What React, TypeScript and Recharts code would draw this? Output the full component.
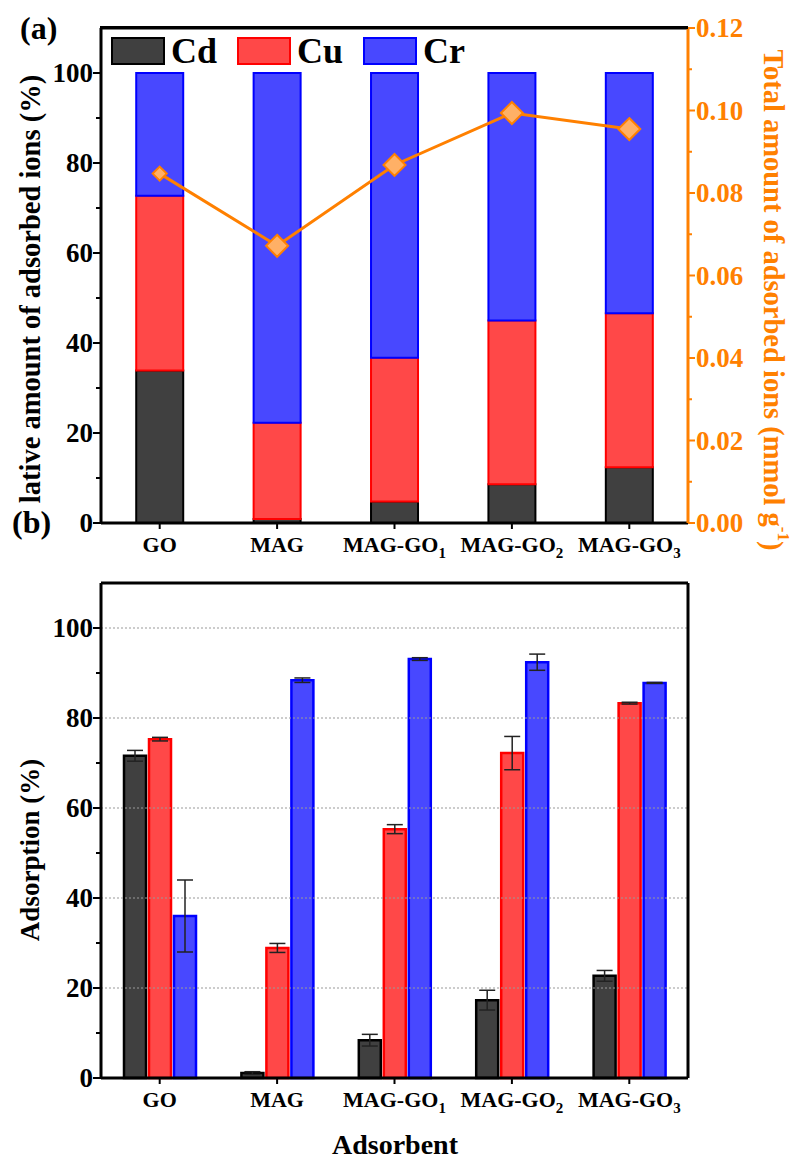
import React from "react";
import {
  ComposedChart, Bar, Line, XAxis, YAxis, ErrorBar, ReferenceLine, Legend,
} from "recharts";

const categories = ["GO", "MAG", "MAG-GO1", "MAG-GO2", "MAG-GO3"];

// (a) share of each ion in the adsorbed total (%)
const relCd = [33.9, 0.9, 4.8, 8.6, 12.4];
const relCu = [38.8, 21.4, 31.9, 36.4, 34.2];
const relCr = [27.3, 77.7, 63.3, 55.0, 53.4];
// (a) total amount adsorbed (mmol/g)
const totalAdsorbed = [0.0847, 0.0672, 0.0868, 0.0994, 0.0955];

// (b) adsorption (%) with error
const adsCd = [71.6, 1.1, 8.4, 17.3, 22.7];
const adsCu = [75.3, 28.9, 55.3, 72.2, 83.3];
const adsCr = [36.0, 88.4, 93.1, 92.4, 87.8];
const errCd = [1.2, 0.3, 1.3, 2.2, 1.2];
const errCu = [0.4, 1.0, 1.0, 3.7, 0.2];
const errCr = [8.0, 0.5, 0.3, 1.8, 0.1];

const pctTicks = [0, 10, 20, 30, 40, 50, 60, 70, 80, 90, 100];
const totalTicks = [0, 0.01, 0.02, 0.03, 0.04, 0.05, 0.06, 0.07, 0.08, 0.09, 0.1, 0.11, 0.12];
const gridValues = [20, 40, 60, 80, 100];

const dataA = categories.map((name, i) => ({
  name, cd: relCd[i], cu: relCu[i], cr: relCr[i], total: totalAdsorbed[i],
}));
const dataB = categories.map((name, i) => ({
  name, cd: adsCd[i], cu: adsCu[i], cr: adsCr[i],
  cdErr: errCd[i], cuErr: errCu[i], crErr: errCr[i],
}));

const FONT = "Liberation Serif, Times New Roman, serif";
const ORANGE = "#ff8000";
const ions = [
  { name: "Cd", fill: "#404040", stroke: "#000000" },
  { name: "Cu", fill: "#ff4848", stroke: "#ff0000" },
  { name: "Cr", fill: "#4848ff", stroke: "#0000ff" },
];

const txt = { fontFamily: FONT, fontWeight: "bold" as const };

const LeftTick = (props: any) => {
  const { x, y, payload } = props;
  const major = payload.value % 20 === 0;
  return (
    <g>
      <line x1={x} x2={x - (major ? 8 : 5)} y1={y} y2={y} stroke="#000" strokeWidth={2} />
      {major && (
        <text x={x - 8} y={y} dy="0.34em" textAnchor="end" style={txt} fontSize={27} fill="#000">
          {payload.value}
        </text>
      )}
    </g>
  );
};

const RightTick = (props: any) => {
  const { x, y, payload } = props;
  const major = Math.round(payload.value * 100) % 2 === 0;
  return (
    <g>
      <line x1={x} x2={x + (major ? 7 : 4)} y1={y} y2={y} stroke={ORANGE} strokeWidth={2} />
      {major && (
        <text x={x + 8} y={y} dy="0.34em" textAnchor="start" style={txt} fontSize={27} fill={ORANGE}>
          {payload.value.toFixed(2)}
        </text>
      )}
    </g>
  );
};

const XTick = (props: any) => {
  const { x, y, payload } = props;
  const m = /^(.*?)(\d)$/.exec(payload.value);
  return (
    <g>
      <line x1={x} x2={x} y1={y} y2={y + 6} stroke="#000" strokeWidth={2} />
      <text x={x} y={y + 29} textAnchor="middle" style={txt} fontSize={22} fill="#000">
        {m ? (<>{m[1]}<tspan fontSize={15} dy={6}>{m[2]}</tspan></>) : payload.value}
      </text>
    </g>
  );
};

const Diamond = (props: any) => {
  const { cx, cy, index } = props;
  const r = index === 0 ? 7 : 11;
  return (
    <path key={`d${index}`} d={`M${cx},${cy - r}L${cx + r},${cy}L${cx},${cy + r}L${cx - r},${cy}Z`}
      fill="#ffb066" stroke={ORANGE} strokeWidth={2} />
  );
};

const IonLegend = () => (
  <div style={{ display: "flex", alignItems: "center", ...txt }}>
    {ions.map((it) => (
      <div key={it.name} style={{ display: "flex", alignItems: "center", marginRight: 20 }}>
        <div style={{ width: 50, height: 24, background: it.fill, border: `2px solid ${it.stroke}` }} />
        <span style={{ fontSize: 36, marginLeft: 6, lineHeight: "36px" }}>{it.name}</span>
      </div>
    ))}
  </div>
);

const axisStyle = { stroke: "#000", strokeWidth: 3 };

export default function App() {
  return (
    <div style={{ position: "absolute", left: 0, top: 0, width: 797, height: 1162, background: "#fff" }}>
      {/* (a) */}
      <div style={{ position: "absolute", left: 0, top: 0 }}>
        <ComposedChart width={797} height={562} data={dataA}
          margin={{ top: 27, right: 0, left: 0, bottom: 0 }} barCategoryGap="30%">
          <XAxis dataKey="name" xAxisId="bottom" height={39} tick={<XTick />} tickLine={false}
            tickSize={0} tickMargin={0} axisLine={axisStyle} interval={0} />
          <XAxis dataKey="name" xAxisId="top" orientation="top" height={1} tick={false}
            tickLine={false} axisLine={axisStyle} />
          <YAxis yAxisId="left" width={101} domain={[0, 110]} ticks={pctTicks} tick={<LeftTick />}
            tickLine={false} tickSize={0} tickMargin={0} axisLine={axisStyle} interval={0}
            label={{
              content: () => (
                <text x={30} y={289} transform="rotate(-90 30 289)" textAnchor="middle"
                  dominantBaseline="central" style={txt} fontSize={28.5} fill="#000">
                  lative amount of adsorbed ions (%)
                </text>
              ),
            }} />
          <YAxis yAxisId="right" orientation="right" width={109} domain={[0, 0.12]} ticks={totalTicks}
            tick={<RightTick />} tickLine={false} tickSize={0} tickMargin={0} interval={0}
            axisLine={{ stroke: ORANGE, strokeWidth: 3 }}
            label={{
              content: () => (
                <text x={773} y={300} transform="rotate(90 773 300)" textAnchor="middle"
                  dominantBaseline="central" style={txt} fontSize={28.5} fill={ORANGE}>
                  Total amount of adsorbed ions (mmol g<tspan fontSize={17} dy={-11}>-1</tspan><tspan dy={11}>)</tspan>
                </text>
              ),
            }} />
          <Legend layout="vertical" verticalAlign="middle" align="center" content={<IonLegend />}
            wrapperStyle={{ top: 33, left: 111, width: "auto" }} />
          {ions.map((it) => (
            <Bar key={it.name} dataKey={it.name.toLowerCase()} name={it.name} stackId="a"
              xAxisId="bottom" yAxisId="left" fill={it.fill} stroke={it.stroke} strokeWidth={2}
              isAnimationActive={false} />
          ))}
          <Line dataKey="total" xAxisId="bottom" yAxisId="right" stroke={ORANGE} strokeWidth={3}
            dot={<Diamond />} activeDot={false} legendType="none" isAnimationActive={false} />
        </ComposedChart>
      </div>

      {/* (b) */}
      <div style={{ position: "absolute", left: 0, top: 562 }}>
        <ComposedChart width={797} height={600} data={dataB} style={{ overflow: "visible" }}
          margin={{ top: 21, right: 0, left: 0, bottom: 0 }} barSize={22} barGap={3}>
          <XAxis dataKey="name" xAxisId="bottom" height={84} tick={<XTick />} tickLine={false}
            tickSize={0} tickMargin={0} axisLine={axisStyle} interval={0}
            label={{
              content: () => (
                <text x={395} y={592} textAnchor="middle" style={txt}
                  fontSize={28} fill="#000">Adsorbent</text>
              ),
            }} />
          <YAxis yAxisId="left" width={101} domain={[0, 110]} ticks={pctTicks} tick={<LeftTick />}
            tickLine={false} tickSize={0} tickMargin={0} axisLine={axisStyle} interval={0}
            label={{
              content: () => (
                <text x={30} y={288} transform="rotate(-90 30 288)" textAnchor="middle"
                  dominantBaseline="central" style={txt} fontSize={27} fill="#000">
                  Adsorption (%)
                </text>
              ),
            }} />
          <YAxis yAxisId="frame" orientation="right" width={109} domain={[0, 110]} tick={false}
            tickLine={false} axisLine={axisStyle} />
          <ReferenceLine y={110} yAxisId="left" xAxisId="bottom" stroke="#000" strokeWidth={3} />
          {gridValues.map((v) => (
            <ReferenceLine key={v} y={v} yAxisId="left" xAxisId="bottom" stroke="#999"
              strokeDasharray="2 2" strokeWidth={1} />
          ))}
          {ions.map((it) => (
            <Bar key={it.name} dataKey={it.name.toLowerCase()} name={it.name} xAxisId="bottom"
              yAxisId="left" fill={it.fill} stroke={it.stroke} strokeWidth={2.5} isAnimationActive={false}>
              <ErrorBar dataKey={`${it.name.toLowerCase()}Err`} width={8} stroke="#222" strokeWidth={1.5} />
            </Bar>
          ))}
        </ComposedChart>
      </div>

      <div style={{ position: "absolute", left: 20, top: 10, ...txt, fontSize: 32 }}>(a)</div>
      <div style={{ position: "absolute", left: 12, top: 504, ...txt, fontSize: 32 }}>(b)</div>
      {/* top frame line of panel (a) */}
      <div style={{ position: "absolute", left: 100, top: 26, width: 588, height: 3, background: "#000", zIndex: 10 }} />
    </div>
  );
}
